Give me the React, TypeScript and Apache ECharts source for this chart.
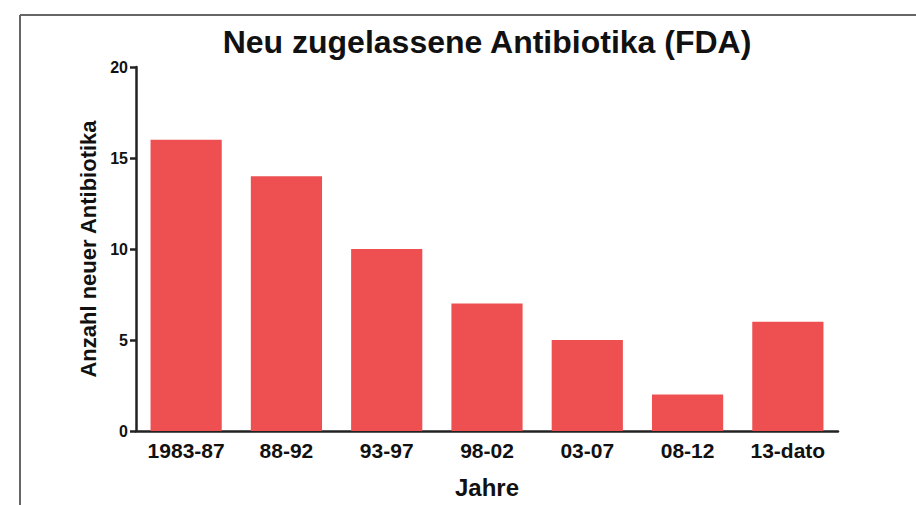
import React, { useEffect, useRef } from "react";
import * as echarts from "echarts";

const titleText = "Neu zugelassene Antibiotika (FDA)";
const categories = ["1983-87", "88-92", "93-97", "98-02", "03-07", "08-12", "13-dato"];
const values = [16, 14, 10, 7, 5, 2, 6];
const yAxisName = "Anzahl neuer Antibiotika";
const xAxisName = "Jahre";
const yMin = 0;
const yMax = 20;
const yInterval = 5;

const FONT = "'Liberation Sans', Arial, Helvetica, sans-serif";

export default function App() {
  const ref = useRef<HTMLDivElement>(null);
  useEffect(() => {
    if (!ref.current) return;
    const chart = echarts.init(ref.current, null, { renderer: "svg" });
    chart.setOption({
      animation: false,
      backgroundColor: "#ffffff",
      title: {
        text: titleText,
        left: 482,
        top: 21,
        textAlign: "center",
        textStyle: { fontFamily: FONT, fontSize: 32, fontWeight: "bold", color: "#111" },
      },
      grid: { left: 136, right: 78, top: 67, bottom: 74, containLabel: false },
      xAxis: {
        type: "category",
        data: categories,
        name: xAxisName,
        nameLocation: "middle",
        nameGap: 44,
        nameTextStyle: { fontFamily: FONT, fontSize: 24, fontWeight: "bold", color: "#111" },
        axisLine: { show: true, lineStyle: { color: "#222", width: 2.5 } },
        axisTick: { show: false },
        axisLabel: {
          interval: 0,
          hideOverlap: false,
          fontFamily: FONT,
          fontSize: 21,
          fontWeight: "bold",
          color: "#111",
          margin: 9,
        },
      },
      yAxis: {
        type: "value",
        min: yMin,
        max: yMax,
        interval: yInterval,
        name: yAxisName,
        nameLocation: "middle",
        nameGap: 32,
        nameTextStyle: { fontFamily: FONT, fontSize: 22, fontWeight: "bold", color: "#111" },
        axisLine: { show: true, lineStyle: { color: "#222", width: 2.5 } },
        axisTick: { show: true, length: 6, lineStyle: { color: "#222", width: 2.5 } },
        axisLabel: { fontFamily: FONT, fontSize: 16, fontWeight: "bold", color: "#111", margin: 8 },
        splitLine: { show: false },
      },
      series: [
        {
          type: "bar",
          data: values,
          barCategoryGap: "29%",
          itemStyle: { color: "#ee5052" },
        },
      ],
      graphic: [
        { type: "line", shape: { x1: 20, y1: 15, x2: 916, y2: 15 }, style: { stroke: "#666", lineWidth: 2 } },
        { type: "line", shape: { x1: 20, y1: 15, x2: 20, y2: 505 }, style: { stroke: "#666", lineWidth: 2 } },
      ],
    });
    return () => chart.dispose();
  }, []);
  return (
    <div
      ref={ref}
      style={{ position: "fixed", left: 0, top: 0, width: 916, height: 505 }}
    />
  );
}
